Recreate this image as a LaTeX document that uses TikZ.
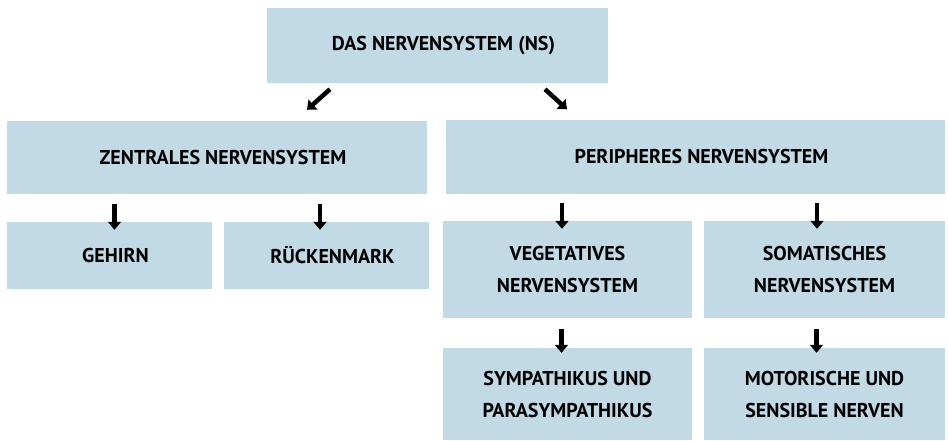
\documentclass[tikz,border=0pt]{standalone}
\usepackage{fontspec}
\setmainfont{PT Sans}
\usetikzlibrary{arrows.meta}

\definecolor{boxblue}{RGB}{194,218,230}

\tikzset{
  box/.style={fill=boxblue, inner sep=0pt, align=center,
    font=\bfseries\fontsize{20}{32}\selectfont},
  arr/.style={-{Triangle[width=13pt,length=8pt]}, line width=4.5pt}
}

\begin{document}
\begin{tikzpicture}[x=1pt,y=-1pt]
  \useasboundingbox (0,0) rectangle (948,441);

  % Ebene 0
  \node[box, minimum width=341, minimum height=75] (ns) at (437.5,45.5) {\hspace*{12pt}DAS NERVENSYSTEM (NS)};

  % Ebene 1
  \node[box, minimum width=420, minimum height=73] (zns) at (217,157.5) {\hspace*{12pt}ZENTRALES NERVENSYSTEM};
  \node[box, minimum width=499, minimum height=73] (pns) at (695.5,157) {\hspace*{12pt}PERIPHERES NERVENSYSTEM};

  % Ebene 2
  \node[box, minimum width=205, minimum height=67] (gehirn) at (109.5,255.5) {\hspace*{12pt}GEHIRN};
  \node[box, minimum width=205, minimum height=67] (rm) at (326.5,255.5) {\hspace*{12pt}RÜCKENMARK};
  \node[box, minimum width=249, minimum height=97] (veg) at (567.5,269.5) {VEGETATIVES\\NERVENSYSTEM};
  \node[box, minimum width=241, minimum height=97] (som) at (824.5,269.5) {SOMATISCHES\\NERVENSYSTEM};

  % Ebene 3
  \node[box, minimum width=249, minimum height=92] (symp) at (567.5,394) {SYMPATHIKUS UND\\PARASYMPATHIKUS};
  \node[box, minimum width=241, minimum height=92] (mot) at (824.5,394) {MOTORISCHE UND\\SENSIBLE NERVEN};

  % Pfeile
  \draw[arr] ([xshift=-107.5,yshift=-6]ns.south) -- ([xshift=90,yshift=11]zns.north);
  \draw[arr] ([xshift=107.5,yshift=-6]ns.south) -- ([xshift=-128.5,yshift=11]pns.north);
  \foreach \n/\dx in {gehirn/5,rm/-6.5,veg/-5.5,som/-7.5}
    \draw[arr] ([xshift=\dx,yshift=18]\n.north) -- ([xshift=\dx,yshift=-8]\n.north);
  \foreach \n/\dx in {symp/-6,mot/-8}
    \draw[arr] ([xshift=\dx,yshift=19]\n.north) -- ([xshift=\dx,yshift=-5]\n.north);
\end{tikzpicture}
\end{document}
